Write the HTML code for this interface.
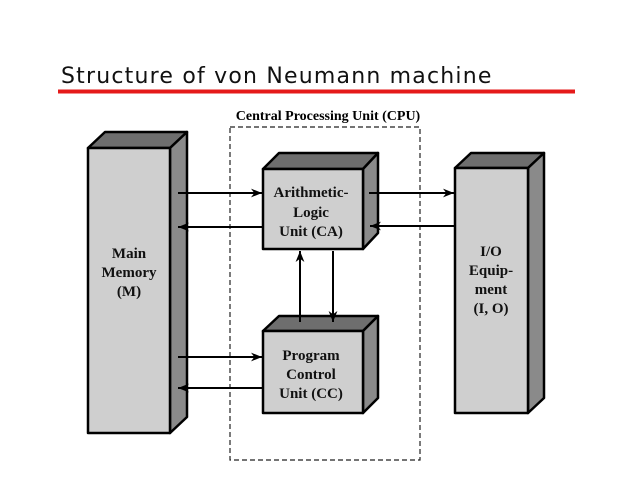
<!DOCTYPE html>
<html><head><meta charset="utf-8"><style>
html,body{margin:0;padding:0;background:#fff;width:638px;height:493px;overflow:hidden}
</style></head><body>
<svg width="638" height="493" viewBox="0 0 638 493" xmlns="http://www.w3.org/2000/svg">
<defs><marker id="a" viewBox="0 0 10 10" refX="10" refY="5" markerWidth="11" markerHeight="11" markerUnits="userSpaceOnUse" orient="auto"><path d="M0,1 L10,5 L0,9 L3,5 Z" fill="#000"/></marker></defs>
<text x="61" y="83" font-family="DejaVu Sans, sans-serif" font-size="22" letter-spacing="1.2" fill="#111">Structure of von Neumann machine</text>
<rect x="58" y="89.5" width="517" height="4" fill="#e51a1a"/>
<text x="328" y="120" text-anchor="middle" font-family="Liberation Serif, serif" font-weight="bold" font-size="14">Central Processing Unit (CPU)</text>
<rect x="230" y="127" width="190" height="333" fill="none" stroke="#222" stroke-width="1.2" stroke-dasharray="5,3"/>
<g stroke="#000" stroke-width="2.5" stroke-linejoin="round">
<polygon points="88,148 105,132 187,132 170,148" fill="#6e6e6e"/>
<polygon points="170,148 187,132 187,417 170,433" fill="#8a8a8a"/>
<rect x="88" y="148" width="82" height="285" fill="#cfcfcf"/>
<polygon points="263,169 279,153 378,153 363,169" fill="#6e6e6e"/>
<polygon points="363,169 378,153 378,233 363,249" fill="#8a8a8a"/>
<rect x="263" y="169" width="100" height="80" fill="#cfcfcf"/>
<polygon points="263,331 279,316 378,316 363,331" fill="#6e6e6e"/>
<polygon points="363,331 378,316 378,398 363,413" fill="#8a8a8a"/>
<rect x="263" y="331" width="100" height="82" fill="#cfcfcf"/>
<polygon points="455,168 471,153 544,153 528,168" fill="#6e6e6e"/>
<polygon points="528,168 544,153 544,398 528,413" fill="#8a8a8a"/>
<rect x="455" y="168" width="73" height="245" fill="#cfcfcf"/>
</g>
<g stroke="#000" stroke-width="2" marker-end="url(#a)">
<line x1="178" y1="193" x2="262" y2="193"/>
<line x1="263" y1="227" x2="178" y2="227"/>
<line x1="178" y1="357" x2="262" y2="357"/>
<line x1="263" y1="388" x2="178" y2="388"/>
<line x1="369" y1="193" x2="454" y2="193"/>
<line x1="455" y1="226" x2="370" y2="226"/>
<line x1="300" y1="322" x2="300" y2="251"/>
<line x1="333" y1="251" x2="333" y2="322"/>
</g>
<g font-family="Liberation Serif, serif" font-weight="bold" font-size="15" text-anchor="middle" fill="#111">
<text x="129" y="258">Main</text><text x="129" y="277">Memory</text><text x="129" y="296">(M)</text>
<text x="311" y="197">Arithmetic-</text><text x="311" y="217">Logic</text><text x="311" y="236">Unit (CA)</text>
<text x="311" y="360">Program</text><text x="311" y="379">Control</text><text x="311" y="398">Unit (CC)</text>
<text x="491" y="256">I/O</text><text x="491" y="275">Equip-</text><text x="491" y="294">ment</text><text x="491" y="313">(I, O)</text>
</g>
</svg>
</body></html>
